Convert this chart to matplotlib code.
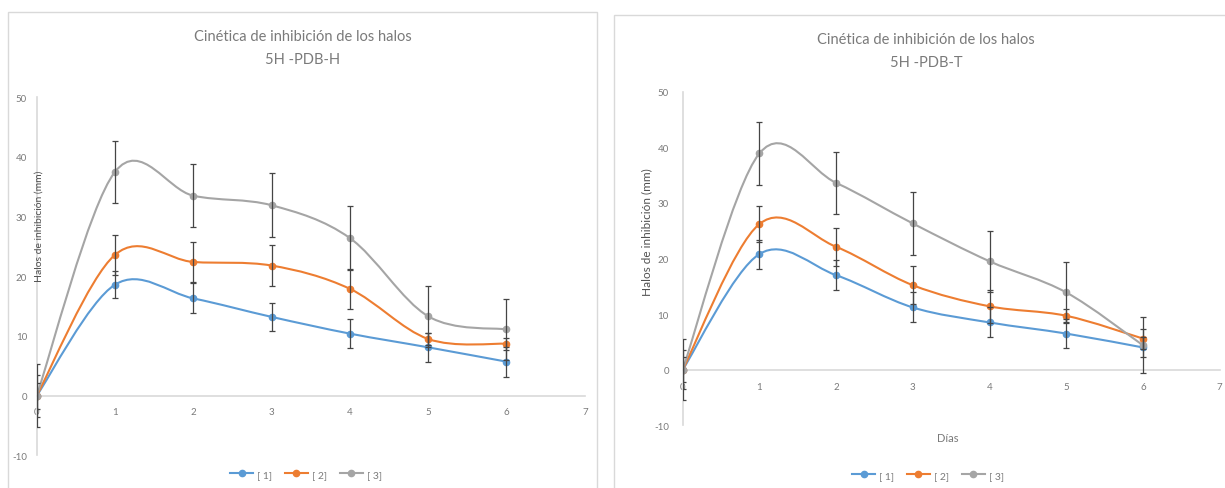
import matplotlib.pyplot as plt
from matplotlib.path import Path
from matplotlib.patches import PathPatch, Rectangle
from matplotlib.lines import Line2D

plt.rcParams['font.family'] = ['Lato', 'DejaVu Sans']
plt.rcParams['axes.unicode_minus'] = False

# Data
dias = [0, 1, 2, 3, 4, 5, 6]
series_names = ["[ 1]", "[ 2]", "[ 3]"]
colors = ["#5B9BD5", "#ED7D31", "#A5A5A5"]

# 5H -PDB-H
h1 = [0, 18.6, 16.3, 13.2, 10.4, 8.1, 5.7]
h1_err = [2.2, 2.3, 2.5, 2.4, 2.4, 2.4, 2.5]
h2 = [0, 23.6, 22.4, 21.8, 17.9, 9.5, 8.7]
h2_err = [3.5, 3.3, 3.4, 3.4, 3.3, 1.0, 1.0]
h3 = [0, 37.5, 33.5, 31.9, 26.4, 13.3, 11.1]
h3_err = [5.3, 5.2, 5.3, 5.4, 5.3, 5.1, 5.1]

# 5H -PDB-T
t1 = [0, 20.8, 17.0, 11.2, 8.5, 6.5, 4.0]
t1_err = [2.2, 2.6, 2.7, 2.7, 2.7, 2.6, 1.8]
t2 = [0, 26.2, 22.1, 15.2, 11.4, 9.7, 5.6]
t2_err = [3.5, 3.3, 3.4, 3.4, 3.0, 1.2, 1.8]
t3 = [0, 38.9, 33.6, 26.3, 19.5, 13.9, 4.4]
t3_err = [5.5, 5.6, 5.6, 5.6, 5.5, 5.5, 5.0]

y_ticks = [-10, 0, 10, 20, 30, 40, 50]
x_ticks = [0, 1, 2, 3, 4, 5, 6, 7]

TXT = "#7a7a7a"
AX = "#d9d9d9"
W, H = 1225, 489


def smooth_path(x, y):
    # Excel-like smoothed line: bezier segments, catmull-rom control points
    n = len(x)
    verts = [(x[0], y[0])]
    codes = [Path.MOVETO]
    for i in range(n - 1):
        i0 = max(i - 1, 0)
        i3 = min(i + 2, n - 1)
        c1 = (x[i] + (x[i + 1] - x[i0]) / 6, y[i] + (y[i + 1] - y[i0]) / 6)
        c2 = (x[i + 1] - (x[i3] - x[i]) / 6, y[i + 1] - (y[i3] - y[i]) / 6)
        verts += [c1, c2, (x[i + 1], y[i + 1])]
        codes += [Path.CURVE4] * 3
    return Path(verts, codes)


def fig_rect(x0, y0, x1, y1):
    # pixel box (top-left origin) -> figure fraction
    return [x0 / W, 1 - y1 / H, (x1 - x0) / W, (y1 - y0) / H]


def draw_panel(ax, ys, errs, ypad, xpad):
    for y, e, c in zip(ys, errs, colors):
        ax.add_patch(PathPatch(smooth_path(dias, y), fill=False,
                               edgecolor=c, lw=1.5, zorder=2))
        ax.plot(dias, y, 'o', color=c, markersize=4.5, zorder=3)
        ax.errorbar(dias, y, yerr=e, fmt='none', ecolor="#454545",
                    elinewidth=0.9, capsize=2.5, capthick=0.9, zorder=4)
    ax.set_xlim(0, 7)
    ax.set_ylim(-10, 50)
    ax.set_xticks(x_ticks)
    ax.set_yticks(y_ticks)
    ax.spines['top'].set_visible(False)
    ax.spines['right'].set_visible(False)
    ax.spines['bottom'].set_position(('data', 0))
    ax.spines['bottom'].set_color(AX)
    ax.spines['left'].set_color(AX)
    ax.spines['bottom'].set_linewidth(1.2)
    ax.spines['left'].set_linewidth(1.2)
    ax.tick_params(axis='x', length=0, pad=xpad, labelsize=7, labelcolor=TXT)
    ax.tick_params(axis='y', length=0, pad=ypad, labelsize=7, labelcolor=TXT)
    ax.set_facecolor('none')


fig = plt.figure(figsize=(W / 100, H / 100), dpi=100)

# panel frames
fig.patches.append(Rectangle((8 / W, -0.1), (597 - 8) / W, 1.1 - 13 / H,
                             transform=fig.transFigure, fill=False,
                             edgecolor=AX, lw=1))
fig.patches.append(Rectangle((614 / W, -0.1), (1240 - 614) / W, 1.1 - 16 / H,
                             transform=fig.transFigure, fill=False,
                             edgecolor=AX, lw=1))

ax1 = fig.add_axes(fig_rect(36.7, 98.2, 584.8, 456.4))
draw_panel(ax1, [h1, h2, h3], [h1_err, h2_err, h3_err], ypad=7, xpad=8)

ax2 = fig.add_axes(fig_rect(682.7, 92.7, 1219.6, 426.3))
draw_panel(ax2, [t1, t2, t3], [t1_err, t2_err, t3_err], ypad=10, xpad=8.5)

# titles
fig.text(303 / W, 1 - 37 / H, "Cinética de inhibición de los halos",
         ha='center', va='center', fontsize=10.5, color=TXT)
fig.text(303 / W, 1 - 60 / H, "5H -PDB-H",
         ha='center', va='center', fontsize=10.5, color=TXT)
fig.text(926 / W, 1 - 40 / H, "Cinética de inhibición de los halos",
         ha='center', va='center', fontsize=10.5, color=TXT)
fig.text(926 / W, 1 - 63 / H, "5H -PDB-T",
         ha='center', va='center', fontsize=10.5, color=TXT)

# axis titles
fig.text(39 / W, 1 - 226 / H, "Halos de inhibición (mm)", rotation=90,
         ha='center', va='center', fontsize=7.5, color="#505050")
fig.text(647 / W, 1 - 232 / H, "Halos de inhibición (mm)", rotation=90,
         ha='center', va='center', fontsize=8.5, color="#505050")
fig.text(948 / W, 1 - 439 / H, "Días", ha='center', va='center',
         fontsize=8, color=TXT)

# legends
handles = [Line2D([], [], color=c, marker='o', markersize=4.5, lw=1.5)
           for c in colors]
for cx, cy in [(306, 475), (928, 476)]:
    fig.legend(handles, series_names, loc='center', ncol=3, frameon=False,
               bbox_to_anchor=(cx / W, 1 - cy / H), fontsize=7.5,
               labelcolor=TXT, handlelength=2.2, columnspacing=1.2,
               handletextpad=0.4)

fig.savefig("out.png", dpi=100)
